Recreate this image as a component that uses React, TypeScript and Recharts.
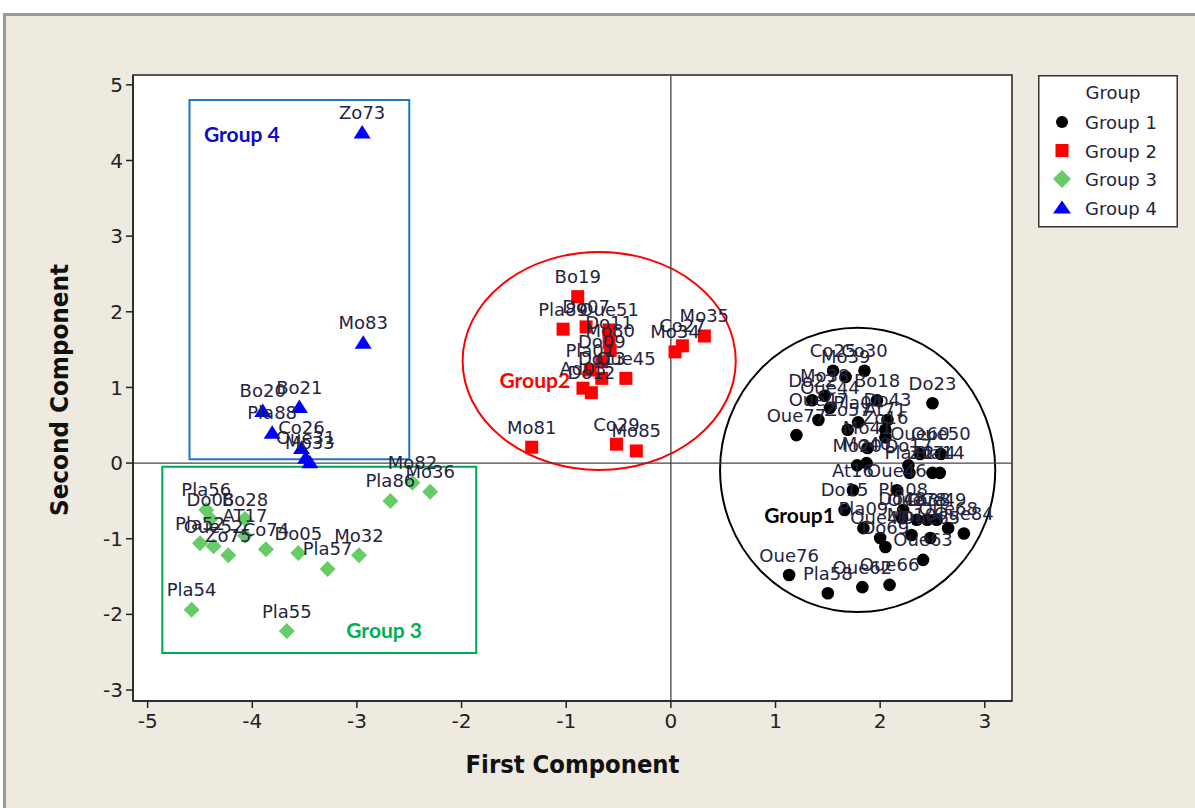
import React from "react";
import {
  ScatterChart,
  Scatter,
  XAxis,
  YAxis,
  CartesianGrid,
  ReferenceLine,
  ReferenceArea,
  ReferenceDot,
  LabelList,
  Legend,
} from "recharts";

const xTicks = [-5, -4, -3, -2, -1, 0, 1, 2, 3];
const yTicks = [-3, -2, -1, 0, 1, 2, 3, 4, 5];
const groupNames = ["Group 1", "Group 2", "Group 3", "Group 4"];

// Group 1 - black circles
const g1Names = [
  "Co25", "Mo39", "Co30", "Do22", "Mo38", "Oue44", "Oue47", "Oue77", "Zo57", "Pla04",
  "Bo18", "Do43", "At71", "Zo16", "Mo41", "Oue60", "Oue50", "Do23", "Mo20", "Mo40",
  "Do17", "Pla12", "Zo74", "Pla14", "At16", "Oue46", "Do15", "Pla08", "Do48", "Oue78",
  "Co38", "Oue49", "Oue68", "Oue84", "Pla09", "Oue42", "Do69", "Mo10", "Oue65", "Oue63",
  "Oue76", "Pla58", "Oue62", "Oue66",
];
const g1X = [
  1.55, 1.67, 1.85, 1.35, 1.47, 1.52, 1.41, 1.20, 1.69, 1.79,
  1.97, 2.07, 2.05, 2.05, 1.88, 2.38, 2.58, 2.50, 1.78, 1.87,
  2.27, 2.28, 2.50, 2.57, 1.74, 2.16, 1.66, 2.22, 2.21, 2.35,
  2.45, 2.54, 2.65, 2.80, 1.84, 2.00, 2.05, 2.30, 2.48, 2.41,
  1.13, 1.50, 1.83, 2.09,
];
const g1Y = [
  1.22, 1.14, 1.22, 0.83, 0.89, 0.73, 0.57, 0.37, 0.44, 0.54,
  0.83, 0.57, 0.44, 0.34, 0.20, 0.12, 0.12, 0.79, -0.03, 0.0,
  -0.03, -0.13, -0.13, -0.13, -0.36, -0.36, -0.62, -0.62, -0.73, -0.75,
  -0.75, -0.75, -0.86, -0.93, -0.86, -0.99, -1.11, -0.95, -0.99, -1.28,
  -1.48, -1.72, -1.64, -1.61,
];

// Group 2 - red squares
const g2Names = [
  "Bo19", "Pla89", "Do07", "Oue51", "Do11", "Mo80", "Do09", "Pla01", "Do13", "Oue45",
  "Ad03", "Do12", "Mo81", "Co29", "Mo85", "Mo34", "Co27", "Mo35",
];
const g2X = [
  -0.89, -1.03, -0.81, -0.59, -0.59, -0.58, -0.66, -0.77, -0.66, -0.43,
  -0.84, -0.76, -1.33, -0.52, -0.33, 0.04, 0.11, 0.32,
];
const g2Y = [
  2.2, 1.77, 1.8, 1.76, 1.6, 1.49, 1.34, 1.23, 1.12, 1.12,
  0.99, 0.93, 0.21, 0.25, 0.16, 1.47, 1.55, 1.68,
];

// Group 3 - green diamonds
const g3Names = [
  "Pla56", "Do08", "Bo28", "AT17", "Pla52", "Oue52", "Zo75", "Co74", "Do05", "Mo32",
  "Pla57", "Pla54", "Pla55", "Pla86", "Mo82", "Mo36",
];
const g3X = [
  -4.44, -4.4, -4.07, -4.07, -4.5, -4.37, -4.23, -3.87, -3.56, -2.98,
  -3.28, -4.58, -3.67, -2.68, -2.47, -2.3,
];
const g3Y = [
  -0.62, -0.74, -0.74, -0.96, -1.06, -1.1, -1.22, -1.14, -1.19, -1.22,
  -1.4, -1.94, -2.22, -0.5, -0.26, -0.38,
];

// Group 4 - blue triangles
const g4Names = ["Zo73", "Mo83", "Bo20", "Bo21", "Pla88", "Co26", "Oue31", "Mo33"];
const g4X = [-2.95, -2.94, -3.9, -3.55, -3.81, -3.53, -3.49, -3.45];
const g4Y = [4.37, 1.59, 0.69, 0.74, 0.4, 0.2, 0.07, 0.01];

const toPoints = (names: string[], xs: number[], ys: number[]) =>
  names.map((name, i) => ({ name, x: xs[i], y: ys[i] }));

const group1 = toPoints(g1Names, g1X, g1Y);
const group2 = toPoints(g2Names, g2X, g2Y);
const group3 = toPoints(g3Names, g3X, g3Y);
const group4 = toPoints(g4Names, g4X, g4Y);

const FONT = "'DejaVu Sans', Verdana, sans-serif";
const NOTE_FONT = "Lato, 'Open Sans', sans-serif";
const LABEL_COLOR = "#24243c";

const CircleMark = (p: any) => <circle cx={p.cx} cy={p.cy} r={6.3} fill="#000" />;
const SquareMark = (p: any) => (
  <rect x={p.cx - 6.5} y={p.cy - 6.5} width={13} height={13} fill="#ff0000" />
);
const DiamondMark = (p: any) => (
  <polygon
    points={`${p.cx},${p.cy - 8} ${p.cx + 8},${p.cy} ${p.cx},${p.cy + 8} ${p.cx - 8},${p.cy}`}
    fill="#66cc66"
  />
);
const TriangleMark = (p: any) => (
  <polygon
    points={`${p.cx},${p.cy - 7.5} ${p.cx + 8.5},${p.cy + 6} ${p.cx - 8.5},${p.cy + 6}`}
    fill="#0000ff"
  />
);

const Ellipse = (color: string) => (p: any) => (
  <ellipse
    cx={p.x + p.width / 2}
    cy={p.y + p.height / 2}
    rx={p.width / 2}
    ry={p.height / 2}
    fill="none"
    stroke={color}
    strokeWidth={2}
  />
);

const Note = (text: string, color: string) => (p: any) => (
  <text
    x={p.cx}
    y={p.cy}
    textAnchor="middle"
    fill={color}
    fontFamily={NOTE_FONT}
    fontWeight="bold"
    fontSize={21}
  >
    {text}
  </text>
);

const legendMarks = [
  (cx: number, cy: number) => <circle cx={cx} cy={cy} r={6} fill="#000" />,
  (cx: number, cy: number) => <rect x={cx - 6.5} y={cy - 6.5} width={13} height={13} fill="#ff0000" />,
  (cx: number, cy: number) => (
    <polygon points={`${cx},${cy - 9} ${cx + 9},${cy} ${cx},${cy + 9} ${cx - 9},${cy}`} fill="#66cc66" />
  ),
  (cx: number, cy: number) => (
    <polygon points={`${cx},${cy - 7} ${cx + 9},${cy + 6} ${cx - 9},${cy + 6}`} fill="#0000ff" />
  ),
];

const renderLegend = () => (
  <svg width={140} height={153} style={{ display: "block" }}>
    <rect x={0.75} y={0.75} width={138.5} height={151} fill="#fff" stroke="#333" strokeWidth={1.5} />
    <text x={75} y={24} textAnchor="middle" fontFamily={FONT} fontSize={18} fill={LABEL_COLOR}>
      Group
    </text>
    {groupNames.map((g, i) => {
      const cy = 47 + i * 28.5;
      return (
        <g key={g}>
          {legendMarks[i](24, cy)}
          <text x={47} y={cy + 7} fontFamily={FONT} fontSize={18} fill={LABEL_COLOR}>
            {g}
          </text>
        </g>
      );
    })}
  </svg>
);

const labelProps = {
  dataKey: "name",
  position: "top" as const,
  offset: 9,
  fill: LABEL_COLOR,
  fontSize: 18,
  fontFamily: FONT,
};

export default function App() {
  return (
    <div style={{ position: "absolute", left: 0, top: 0, width: 1195, height: 808, background: "#fff", overflow: "hidden" }}>
      <div
        style={{
          position: "absolute",
          left: 3,
          top: 13,
          width: 1200,
          height: 800,
          background: "#eeeae0",
          borderTop: "3px solid #9a9a9a",
          borderLeft: "3px solid #9a9a9a",
        }}
      />
      <div style={{ position: "absolute", left: 0, top: 0 }}>
        <ScatterChart width={1195} height={808} margin={{ top: 75, right: 183, bottom: 47, left: 73 }}>
          <CartesianGrid fill="#fff" horizontal={false} vertical={false} />
          <XAxis
            type="number"
            dataKey="x"
            domain={[-5.14, 3.26]}
            allowDataOverflow
            ticks={xTicks}
            height={60}
            tickSize={7}
            tickMargin={6}
            axisLine={{ stroke: "#222", strokeWidth: 1.5 }}
            tickLine={{ stroke: "#222", strokeWidth: 1.5 }}
            tick={{ fill: "#222", fontSize: 20, fontFamily: FONT }}
            label={{
              content: (p: any) => {
                const vb = p.viewBox || { x: 133, y: 701, width: 879 };
                return (
                  <text
                    x={vb.x + vb.width / 2}
                    y={vb.y + 72}
                    textAnchor="middle"
                    fontFamily="'DejaVu Sans Condensed', 'Liberation Sans Narrow', 'DejaVu Sans', sans-serif"
                    fontWeight="bold"
                    fontSize={25}
                    fill="#111"
                    textLength={214}
                    lengthAdjust="spacingAndGlyphs"
                  >
                    First Component
                  </text>
                );
              },
            }}
          />
          <YAxis
            type="number"
            dataKey="y"
            domain={[-3.145, 5.13]}
            allowDataOverflow
            ticks={yTicks}
            width={60}
            tickSize={7}
            tickMargin={3}
            axisLine={{ stroke: "#222", strokeWidth: 1.5 }}
            tickLine={{ stroke: "#222", strokeWidth: 1.5 }}
            tick={{ fill: "#222", fontSize: 20, fontFamily: FONT }}
            label={{
              content: (p: any) => {
                const vb = p.viewBox || { x: 73, y: 75, height: 626 };
                const cx = vb.x - 5;
                const cy = vb.y + vb.height / 2 + 2;
                return (
                  <text
                    x={cx}
                    y={cy}
                    transform={`rotate(-90, ${cx}, ${cy})`}
                    textAnchor="middle"
                    fontFamily="'DejaVu Sans Condensed', 'DejaVu Sans', sans-serif"
                    fontWeight="bold"
                    fontSize={24}
                    fill="#111"
                    textLength={252}
                    lengthAdjust="spacingAndGlyphs"
                  >
                    Second Component
                  </text>
                );
              },
            }}
          />
          <ReferenceArea x1={-5.14} x2={3.26} y1={-3.145} y2={5.13} fill="none" stroke="#222" strokeWidth={1.5} />
          <ReferenceLine x={0} stroke="#444" strokeWidth={1.3} />
          <ReferenceLine y={0} stroke="#444" strokeWidth={1.3} />
          <ReferenceArea x1={-4.6} x2={-2.5} y1={0.05} y2={4.8} fill="none" stroke="#1f74c4" strokeWidth={2} fillOpacity={0} />
          <ReferenceArea x1={-4.86} x2={-1.86} y1={-2.51} y2={-0.05} fill="none" stroke="#00a650" strokeWidth={2} fillOpacity={0} />
          <ReferenceArea x1={-1.99} x2={0.62} y1={-0.09} y2={2.79} shape={Ellipse("#ff0000")} />
          <ReferenceArea x1={0.47} x2={3.1} y1={-1.97} y2={1.79} shape={Ellipse("#000")} />
          <ReferenceDot x={-4.1} y={4.25} r={0} shape={Note("Group 4", "#0a0ac8")} />
          <ReferenceDot x={-2.74} y={-2.31} r={0} shape={Note("Group 3", "#00b050")} />
          <ReferenceDot x={-1.3} y={0.99} r={0} shape={Note("Group2", "#ff0000")} />
          <ReferenceDot x={1.23} y={-0.79} r={0} shape={Note("Group1", "#000")} />
          <Scatter name="Group 1" data={group1} shape={CircleMark} isAnimationActive={false}>
            <LabelList {...labelProps} />
          </Scatter>
          <Scatter name="Group 2" data={group2} shape={SquareMark} isAnimationActive={false}>
            <LabelList {...labelProps} />
          </Scatter>
          <Scatter name="Group 3" data={group3} shape={DiamondMark} isAnimationActive={false}>
            <LabelList {...labelProps} />
          </Scatter>
          <Scatter name="Group 4" data={group4} shape={TriangleMark} isAnimationActive={false}>
            <LabelList {...labelProps} />
          </Scatter>
          <Legend
            layout="horizontal"
            verticalAlign="middle"
            align="center"
            wrapperStyle={{ left: 1038, top: 75, width: 140, height: 153 }}
            content={renderLegend}
          />
        </ScatterChart>
      </div>
    </div>
  );
}
